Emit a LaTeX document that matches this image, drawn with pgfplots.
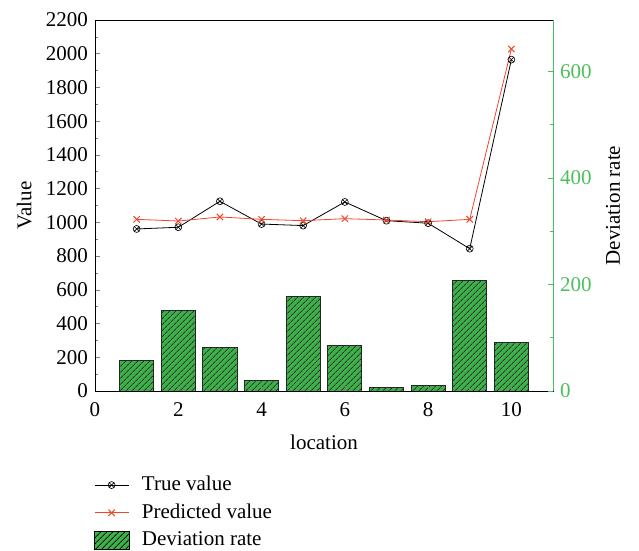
\documentclass[border=0pt]{standalone}
\usepackage{pgfplots}
\pgfplotsset{compat=1.18}
\usepackage{fontspec}
\setmainfont{Liberation Serif}
\usetikzlibrary{patterns.meta}
\definecolor{bargreen}{RGB}{58,178,72}
\definecolor{axgreen}{RGB}{76,190,92}
\definecolor{predred}{RGB}{240,70,45}
\begin{document}
\fontsize{21}{24}\selectfont
\begin{tikzpicture}
\pgfplotsset{
  base/.style={scale only axis, width=458pt, height=371pt, xmin=0, xmax=11,
    at={(0,0)}, anchor=south west,
    /pgf/number format/assume math mode=true,
    /pgf/number format/1000 sep={}, scaled ticks=false,
    tick align=inside, major tick length=5pt, minor tick length=3pt,
    tick style={line width=0.6pt},
  },
}
% bars (right scale)
\begin{axis}[base, ymin=0, ymax=697, hide axis]
\addplot[ybar, bar width=0.82, fill=bargreen, draw=black!85, line width=0.8pt,
  postaction={pattern={Lines[angle=45, distance=4pt, line width=0.9pt]}, pattern color=black!80}]
  coordinates {(1,58) (2,152) (3,82) (4,20) (5,177) (6,85) (7,6) (8,11) (9,207) (10,91.5)};
\end{axis}
% left axis with lines
\begin{axis}[base, ymin=0, ymax=2200,
  ytick={0,200,...,2200}, minor y tick num=1,
  xtick={0,2,...,10}, minor x tick num=1,
  xtick pos=bottom, ytick pos=left,
  xticklabel style={yshift=-4pt},
  xlabel style={yshift=-4pt},
  axis line style={black, line width=0.6pt},
  xlabel={location}, ylabel={Value},
  legend style={at={(0,0)}, anchor=north west, yshift=-80pt, xshift=-4pt, draw=none, fill=none,
    row sep=4pt, nodes={inner sep=3pt},
    /tikz/every odd column/.append style={column sep=9pt}},
  legend cell align=left,
  legend image code/.code={\draw[mark repeat=2,mark phase=2,#1] plot coordinates {(0pt,0pt) (17pt,0pt) (34pt,0pt)};},
]
\addplot[black, line width=0.8pt, mark=otimes, mark size=3.5pt, mark options={line width=0.6pt}]
  coordinates {(1,961) (2,971) (3,1125) (4,990) (5,981) (6,1121) (7,1010) (8,995) (9,844) (10,1965)};
\addplot[predred, line width=0.8pt, mark=x, mark size=4.5pt, mark options={line width=1pt}]
  coordinates {(1,1018) (2,1008) (3,1032) (4,1018) (5,1010) (6,1022) (7,1014) (8,1004) (9,1018) (10,2028)};
\addlegendimage{legend image code/.code={\draw[fill=bargreen, draw=black, line width=0.8pt, postaction={pattern={Lines[angle=45, distance=4pt, line width=0.9pt]}}] (0pt,-9pt) rectangle (35pt,9pt);}}
\legend{True value, Predicted value, Deviation rate}
\end{axis}
% right axis spine
\begin{axis}[base, ymin=0, ymax=697,
  axis x line=none, axis y line*=right,
  axis line style={axgreen, line width=0.8pt},
  ytick={0,200,400,600}, minor y tick num=1,
  every tick/.style={axgreen, line width=0.8pt},
  yticklabel style={text=axgreen},
  ylabel={Deviation rate},
]
\addplot[draw=none] coordinates {(1,0)};
\end{axis}
\pgfresetboundingbox
\path[use as bounding box] (-95pt,-159pt) rectangle (544pt,391pt);
\end{tikzpicture}
\end{document}
